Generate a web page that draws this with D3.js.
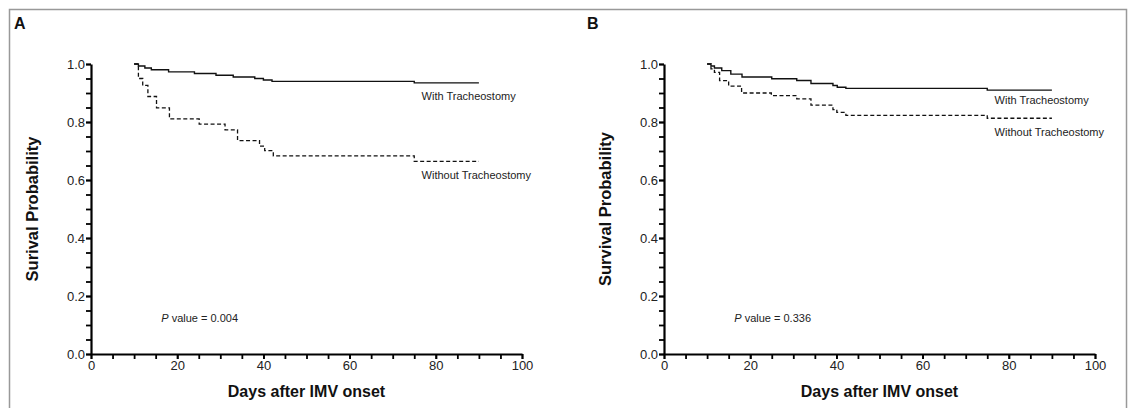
<!DOCTYPE html>
<html>
<head>
<meta charset="utf-8">
<script src="https://cdn.jsdelivr.net/npm/d3@7"></script>
<style>
  body { margin: 0; background: #fff; }
  text { font-family: "Liberation Sans", Arial, Helvetica, sans-serif; }
</style>
</head>
<body>
<script>
// * Data
// each pair is [day, survival probability], step changes
const aWith = [[10, 1], [11, 0.993], [12.5, 0.986], [14, 0.98], [18, 0.973], [24, 0.967], [29, 0.961], [33, 0.955], [38, 0.95], [40, 0.945], [42, 0.94], [75, 0.935], [90, 0.935]];
const aWithout = [[10, 1], [11, 0.95], [12, 0.926], [13.2, 0.888], [15.2, 0.849], [18.2, 0.811], [25.1, 0.793], [31.1, 0.773], [34, 0.736], [39.1, 0.717], [40.3, 0.701], [42.3, 0.683], [75, 0.664], [90, 0.664]];
const bWith = [[10, 1], [10.9, 0.993], [11.7, 0.986], [13.4, 0.977], [15.5, 0.965], [18.1, 0.955], [25, 0.949], [30.8, 0.943], [34.1, 0.933], [39.2, 0.926], [40.2, 0.92], [42.2, 0.916], [75, 0.91], [90, 0.91]];
const bWithout = [[10, 1], [10.9, 0.983], [11.7, 0.971], [12.9, 0.943], [15, 0.924], [18, 0.9], [24.9, 0.891], [30.8, 0.88], [34.1, 0.858], [39.2, 0.843], [40.1, 0.833], [42.2, 0.823], [75, 0.813], [90, 0.813]];

const xTicks = [0, 20, 40, 60, 80, 100];
const yTicks = [0, 0.2, 0.4, 0.6, 0.8, 1.0];
const panels = [
  { letter: "A", yTitle: "Surival Probability", pValue: "0.004", withData: aWith, withoutData: aWithout, left: 91 },
  { letter: "B", yTitle: "Survival Probability", pValue: "0.336", withData: bWith, withoutData: bWithout, left: 664 },
];

// * Size
const width = 1132;
const height = 408;
const plotW = 431;
const plotTop = 64;
const plotBottom = 354;

const svg = d3.select("body").append("svg")
  .attr("width", width)
  .attr("height", height);

// * outer frame
svg.append("rect")
  .attr("x", 9.5).attr("y", 9.5)
  .attr("width", 1117).attr("height", 420)
  .attr("fill", "none")
  .attr("stroke", "#999")
  .attr("stroke-width", 1.5);

panels.forEach((p) => {
  const x = d3.scaleLinear().domain([0, 100]).range([p.left, p.left + plotW]);
  const y = d3.scaleLinear().domain([0, 1]).range([plotBottom, plotTop]);
  const g = svg.append("g");

  // minor ticks
  g.append("g")
    .attr("transform", `translate(0,${plotBottom})`)
    .call(d3.axisBottom(x).tickValues(d3.range(0, 101, 5)).tickSize(5).tickFormat(""))
    .call((s) => s.select(".domain").remove());
  g.append("g")
    .attr("transform", `translate(${p.left},0)`)
    .call(d3.axisLeft(y).tickValues(d3.range(0, 1.001, 0.05)).tickSize(5).tickFormat(""))
    .call((s) => s.select(".domain").remove());

  // major ticks + labels
  g.append("g")
    .attr("transform", `translate(0,${plotBottom})`)
    .call(d3.axisBottom(x).tickValues(xTicks).tickSize(5).tickPadding(2).tickSizeOuter(0));
  g.append("g")
    .attr("transform", `translate(${p.left},0)`)
    .call(d3.axisLeft(y).tickValues(yTicks).tickSize(5).tickPadding(1).tickSizeOuter(0).tickFormat(d3.format(".1f")));

  g.selectAll(".domain").attr("stroke", "#000").attr("stroke-width", 2.2);
  g.selectAll(".tick line").attr("stroke", "#000").attr("stroke-width", 1.8);
  g.selectAll(".tick text").attr("font-size", 13).attr("fill", "#222")
    .attr("font-family", "Liberation Sans, Arial, sans-serif");

  // * curves
  const line = d3.line()
    .x((d) => x(d[0]))
    .y((d) => y(d[1]))
    .curve(d3.curveStepAfter);

  g.append("path")
    .datum(p.withData)
    .attr("d", line)
    .attr("fill", "none")
    .attr("stroke", "#111")
    .attr("stroke-width", 1.4);

  g.append("path")
    .datum(p.withoutData)
    .attr("d", line)
    .attr("fill", "none")
    .attr("stroke", "#111")
    .attr("stroke-width", 1.3)
    .attr("stroke-dasharray", "4,2.5");

  // * curve labels
  const lastWith = p.withData[p.withData.length - 1][1];
  const lastWithout = p.withoutData[p.withoutData.length - 1][1];
  g.append("text")
    .attr("x", x(76.7))
    .attr("y", y(lastWith) + (p.letter === "A" ? 17 : 14))
    .attr("font-size", 11)
    .attr("fill", "#222")
    .text("With Tracheostomy");
  g.append("text")
    .attr("x", x(76.7))
    .attr("y", y(lastWithout) + (p.letter === "A" ? 18 : 18))
    .attr("font-size", 11)
    .attr("fill", "#222")
    .text("Without Tracheostomy");

  // * p value
  const pt = g.append("text")
    .attr("x", x(16.3))
    .attr("y", y(0.1) - 3)
    .attr("font-size", 11)
    .attr("fill", "#222");
  pt.append("tspan").attr("font-style", "italic").text("P");
  pt.append("tspan").text(` value = ${p.pValue}`);

  // * titles
  g.append("text")
    .attr("transform", `translate(${p.left - 53},${(plotTop + plotBottom) / 2}) rotate(-90)`)
    .attr("text-anchor", "middle")
    .attr("font-size", 16.5)
    .attr("font-weight", "bold")
    .attr("fill", "#111")
    .text(p.yTitle);

  g.append("text")
    .attr("x", p.left + plotW / 2)
    .attr("y", 397)
    .attr("text-anchor", "middle")
    .attr("font-size", 16)
    .attr("font-weight", "bold")
    .attr("fill", "#111")
    .text("Days after IMV onset");

  g.append("text")
    .attr("x", p.left - 77)
    .attr("y", 29)
    .attr("font-size", 16)
    .attr("font-weight", "bold")
    .attr("fill", "#111")
    .text(p.letter);
});
</script>
</body>
</html>
